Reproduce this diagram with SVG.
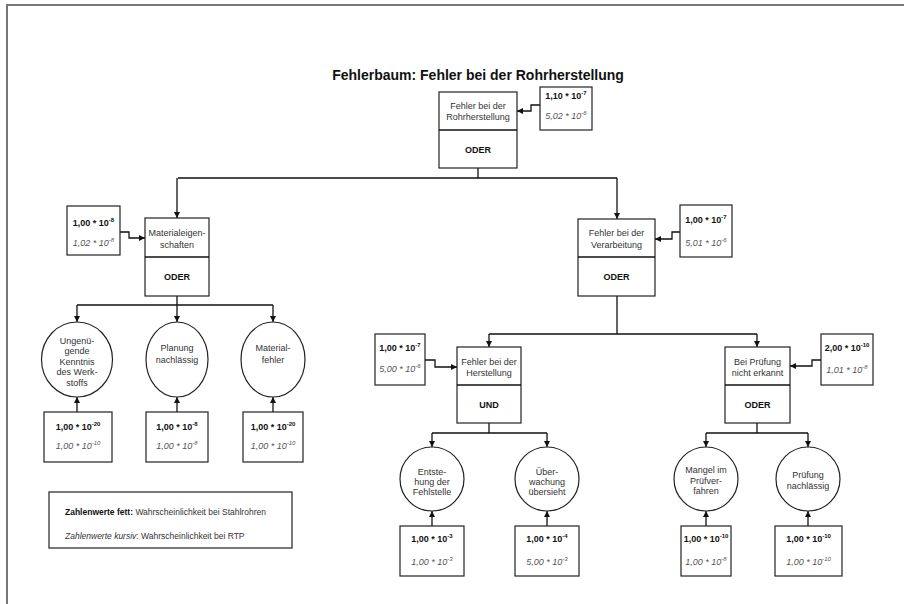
<svg xmlns="http://www.w3.org/2000/svg" width="904" height="604" viewBox="0 0 904 604">
<defs>
<marker id="arr" markerUnits="userSpaceOnUse" markerWidth="7" markerHeight="7" refX="6" refY="3" orient="auto">
<path d="M0,0 L6,3 L0,6 z" fill="#111"/>
</marker>
<style>
.bg{fill:#fff}
.frame{fill:none;stroke:#777;stroke-width:2}
.box{fill:#fff;stroke:#222;stroke-width:1.2}
.ln{fill:none;stroke:#111;stroke-width:1.3}
.arw{fill:none;stroke:#111;stroke-width:1.3;marker-end:url(#arr)}
text{font-family:"Liberation Sans",Arial,sans-serif}
.t{font-size:9px;fill:#333;text-anchor:middle}
.g{font-size:9px;font-weight:bold;fill:#111;text-anchor:middle}
.vb{font-size:9px;font-weight:bold;fill:#111;text-anchor:middle}
.vi{font-size:9px;font-style:italic;fill:#555;text-anchor:middle}
.title{font-size:14px;font-weight:bold;fill:#111;text-anchor:middle}
.leg{font-size:8.5px;fill:#333}
</style>
</defs>
<rect class="bg" x="0" y="0" width="904" height="604"/>
<rect class="frame" x="7" y="5" width="1000" height="1000"/>
<text class="title" x="478" y="80">Fehlerbaum: Fehler bei der Rohrherstellung</text>

<g id="connectors">
<path class="ln" d="M478,168 V178 M178,178 H617"/>
<path class="arw" d="M177,178 V218"/>
<path class="arw" d="M617,178 V219"/>
<path class="arw" d="M540,105 H531 V111 H517"/>
<path class="arw" d="M120,232 H129 V238 H145"/>
<path class="arw" d="M680,232 H672 V239 H655"/>
<path class="ln" d="M177,296 V305 M77,305 H273"/>
<path class="arw" d="M77,305 V322"/>
<path class="arw" d="M177,305 V322"/>
<path class="arw" d="M273,305 V322"/>
<path class="arw" d="M77,412 V397"/>
<path class="arw" d="M177,412 V397"/>
<path class="arw" d="M273,412 V397"/>
<path class="ln" d="M617,296 V334 M489,334 H757"/>
<path class="arw" d="M489,334 V347"/>
<path class="arw" d="M757,334 V347"/>
<path class="arw" d="M425,360 H435 V367 H457"/>
<path class="arw" d="M821,360 H812 V366 H790"/>
<path class="ln" d="M489,423 V433 M432,433 H547"/>
<path class="arw" d="M432,433 V447"/>
<path class="arw" d="M547,433 V447"/>
<path class="ln" d="M757,423 V433 M706,433 H808"/>
<path class="arw" d="M706,433 V447"/>
<path class="arw" d="M808,433 V447"/>
<path class="arw" d="M432,526 V511"/>
<path class="arw" d="M547,526 V511"/>
<path class="arw" d="M706,526 V511"/>
<path class="arw" d="M808,526 V511"/>
</g>

<g id="n-top">
<rect class="box" x="439" y="92" width="78" height="76"/>
<line class="ln" x1="439" y1="130" x2="517" y2="130"/>
<text class="t" x="478" y="109">Fehler bei der</text>
<text class="t" x="478" y="120">Rohrherstellung</text>
<text class="g" x="478" y="153">ODER</text>
</g>
<g id="v-top">
<rect class="box" x="540" y="87" width="52" height="43"/>
<text class="vb" x="566" y="99">1,10 * 10<tspan font-size="6" dy="-4">-7</tspan></text>
<text class="vi" x="566" y="119">5,02 * 10<tspan font-size="6" dy="-4">-6</tspan></text>
</g>

<g id="n-material">
<rect class="box" x="145" y="218" width="64" height="78"/>
<line class="ln" x1="145" y1="257" x2="209" y2="257"/>
<text class="t" x="177" y="236">Materialeigen-</text>
<text class="t" x="177" y="248">schaften</text>
<text class="g" x="177" y="280">ODER</text>
</g>
<g id="v-material">
<rect class="box" x="67" y="206" width="53" height="49"/>
<text class="vb" x="93.5" y="226">1,00 * 10<tspan font-size="6" dy="-4">-8</tspan></text>
<text class="vi" x="93.5" y="246">1,02 * 10<tspan font-size="6" dy="-4">-8</tspan></text>
</g>

<g id="n-verarbeitung">
<rect class="box" x="578" y="219" width="77" height="77"/>
<line class="ln" x1="578" y1="257" x2="655" y2="257"/>
<text class="t" x="616.5" y="236">Fehler bei der</text>
<text class="t" x="616.5" y="248">Verarbeitung</text>
<text class="g" x="616.5" y="280">ODER</text>
</g>
<g id="v-verarbeitung">
<rect class="box" x="680" y="205" width="52" height="52"/>
<text class="vb" x="706" y="223">1,00 * 10<tspan font-size="6" dy="-4">-7</tspan></text>
<text class="vi" x="706" y="246">5,01 * 10<tspan font-size="6" dy="-4">-6</tspan></text>
</g>

<g id="e-kenntnis">
<ellipse class="box" cx="77" cy="359.5" rx="35.5" ry="37.5"/>
<text class="t" x="77" y="343.5">Ungenü-</text>
<text class="t" x="77" y="354">gende</text>
<text class="t" x="77" y="364.5">Kenntnis</text>
<text class="t" x="77" y="375">des Werk-</text>
<text class="t" x="77" y="385.5">stoffs</text>
</g>
<g id="v-kenntnis">
<rect class="box" x="44" y="412" width="68" height="50"/>
<text class="vb" x="78" y="430">1,00 * 10<tspan font-size="6" dy="-4">-20</tspan></text>
<text class="vi" x="78" y="449">1,00 * 10<tspan font-size="6" dy="-4">-10</tspan></text>
</g>

<g id="e-planung">
<ellipse class="box" cx="177" cy="359.5" rx="31" ry="37.5"/>
<text class="t" x="177" y="351">Planung</text>
<text class="t" x="177" y="363">nachlässig</text>
</g>
<g id="v-planung">
<rect class="box" x="146" y="412" width="62" height="50"/>
<text class="vb" x="177" y="430">1,00 * 10<tspan font-size="6" dy="-4">-8</tspan></text>
<text class="vi" x="177" y="449">1,00 * 10<tspan font-size="6" dy="-4">-8</tspan></text>
</g>

<g id="e-materialfehler">
<ellipse class="box" cx="273" cy="359.5" rx="32" ry="37.5"/>
<text class="t" x="273" y="351">Material-</text>
<text class="t" x="273" y="363">fehler</text>
</g>
<g id="v-materialfehler">
<rect class="box" x="243" y="412" width="60" height="50"/>
<text class="vb" x="273" y="430">1,00 * 10<tspan font-size="6" dy="-4">-20</tspan></text>
<text class="vi" x="273" y="449">1,00 * 10<tspan font-size="6" dy="-4">-10</tspan></text>
</g>

<g id="n-herstellung">
<rect class="box" x="457" y="347" width="64" height="76"/>
<line class="ln" x1="457" y1="385" x2="521" y2="385"/>
<text class="t" x="489" y="365">Fehler bei der</text>
<text class="t" x="489" y="375.5">Herstellung</text>
<text class="g" x="489" y="408">UND</text>
</g>
<g id="v-herstellung">
<rect class="box" x="375" y="334" width="50" height="51"/>
<text class="vb" x="400" y="351">1,00 * 10<tspan font-size="6" dy="-4">-7</tspan></text>
<text class="vi" x="400" y="372">5,00 * 10<tspan font-size="6" dy="-4">-6</tspan></text>
</g>

<g id="n-pruefung">
<rect class="box" x="725" y="347" width="65" height="76"/>
<line class="ln" x1="725" y1="385" x2="790" y2="385"/>
<text class="t" x="757.5" y="365">Bei Prüfung</text>
<text class="t" x="757.5" y="375.5">nicht erkannt</text>
<text class="g" x="757.5" y="408">ODER</text>
</g>
<g id="v-pruefung">
<rect class="box" x="821" y="334" width="52" height="51"/>
<text class="vb" x="847" y="351">2,00 * 10<tspan font-size="6" dy="-4">-10</tspan></text>
<text class="vi" x="847" y="373">1,01 * 10<tspan font-size="6" dy="-4">-8</tspan></text>
</g>

<g id="e-entstehung">
<circle class="box" cx="432" cy="479" r="32"/>
<text class="t" x="432" y="475">Entste-</text>
<text class="t" x="432" y="485">hung der</text>
<text class="t" x="432" y="495">Fehlstelle</text>
</g>
<g id="v-entstehung">
<rect class="box" x="400" y="526" width="64" height="50"/>
<text class="vb" x="432" y="542">1,00 * 10<tspan font-size="6" dy="-4">-3</tspan></text>
<text class="vi" x="432" y="565">1,00 * 10<tspan font-size="6" dy="-4">-3</tspan></text>
</g>

<g id="e-ueberwachung">
<circle class="box" cx="547" cy="479" r="32"/>
<text class="t" x="547" y="475">Über-</text>
<text class="t" x="547" y="485">wachung</text>
<text class="t" x="547" y="495">übersieht</text>
</g>
<g id="v-ueberwachung">
<rect class="box" x="515" y="526" width="64" height="50"/>
<text class="vb" x="547" y="542">1,00 * 10<tspan font-size="6" dy="-4">-4</tspan></text>
<text class="vi" x="547" y="565">5,00 * 10<tspan font-size="6" dy="-4">-3</tspan></text>
</g>

<g id="e-mangel">
<circle class="box" cx="706" cy="479" r="32"/>
<text class="t" x="706" y="473">Mangel im</text>
<text class="t" x="706" y="484">Prüfver-</text>
<text class="t" x="706" y="494">fahren</text>
</g>
<g id="v-mangel">
<rect class="box" x="681" y="526" width="50" height="50"/>
<text class="vb" x="706" y="542">1,00 * 10<tspan font-size="6" dy="-4">-10</tspan></text>
<text class="vi" x="706" y="565">1,00 * 10<tspan font-size="6" dy="-4">-8</tspan></text>
</g>

<g id="e-nachlaessig">
<circle class="box" cx="808" cy="479" r="32"/>
<text class="t" x="808" y="478">Prüfung</text>
<text class="t" x="808" y="489">nachlässig</text>
</g>
<g id="v-nachlaessig">
<rect class="box" x="775" y="526" width="67" height="50"/>
<text class="vb" x="808.5" y="542">1,00 * 10<tspan font-size="6" dy="-4">-10</tspan></text>
<text class="vi" x="808.5" y="565">1,00 * 10<tspan font-size="6" dy="-4">-10</tspan></text>
</g>

<g id="legend">
<rect class="box" x="49" y="492" width="243" height="56"/>
<text class="leg" x="65" y="515"><tspan font-weight="bold" fill="#111">Zahlenwerte fett:</tspan> Wahrscheinlichkeit bei Stahlrohren</text>
<text class="leg" x="65" y="539"><tspan font-style="italic">Zahlenwerte kursiv</tspan>: Wahrscheinlichkeit bei RTP</text>
</g>
</svg>
